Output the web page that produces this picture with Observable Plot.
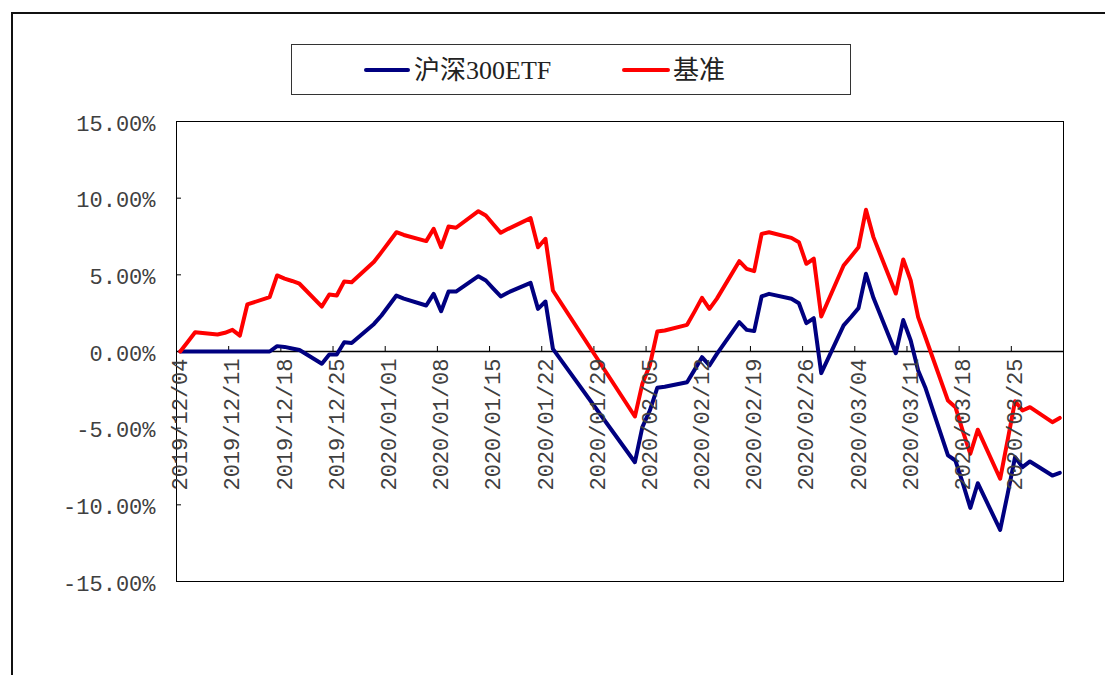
<!DOCTYPE html>
<html><head><meta charset="utf-8">
<script src="https://cdn.jsdelivr.net/npm/d3@7"></script>
<script src="https://cdn.jsdelivr.net/npm/@observablehq/plot@0.6"></script>
<style>
body{margin:0;background:#fff;}
#wrap{position:relative;width:1105px;height:675px;overflow:hidden;background:#fff;}
#border{position:absolute;left:11px;top:12px;width:1200px;height:800px;border-top:2px solid #111;border-left:2px solid #111;}
#chart{position:absolute;left:0;top:0;}
#legend{position:absolute;left:291px;top:44px;width:558px;height:49px;border:1px solid #333;background:#fff;}
#legend .ln{position:absolute;top:23px;height:4px;border-radius:2px;}
#legend .tx{position:absolute;top:8px;font-size:26px;line-height:36px;font-family:"Liberation Serif","Noto Sans CJK SC",serif;color:#222;white-space:nowrap;}
</style></head>
<body>
<div id="wrap">
  <div id="border"></div>
  <div id="chart"></div>
  <div id="legend"></div>
</div>
<script>
// ---- data ----
const seriesNames = ["沪深300ETF", "基准"];
const seriesColors = ["#000080", "#ff0000"];
const dates = [
"2019-12-04","2019-12-05","2019-12-06","2019-12-09","2019-12-10","2019-12-11","2019-12-12","2019-12-13",
"2019-12-16","2019-12-17","2019-12-18","2019-12-19","2019-12-20","2019-12-23","2019-12-24","2019-12-25",
"2019-12-26","2019-12-27","2019-12-30","2019-12-31",
"2020-01-02","2020-01-03","2020-01-06","2020-01-07","2020-01-08","2020-01-09","2020-01-10","2020-01-13",
"2020-01-14","2020-01-15","2020-01-16","2020-01-17","2020-01-20","2020-01-21","2020-01-22","2020-01-23",
"2020-02-03","2020-02-04","2020-02-05","2020-02-06","2020-02-07","2020-02-10","2020-02-11","2020-02-12",
"2020-02-13","2020-02-14","2020-02-17","2020-02-18","2020-02-19","2020-02-20","2020-02-21","2020-02-24",
"2020-02-25","2020-02-26","2020-02-27","2020-02-28",
"2020-03-02","2020-03-03","2020-03-04","2020-03-05","2020-03-06","2020-03-09","2020-03-10","2020-03-11",
"2020-03-12","2020-03-13","2020-03-16","2020-03-17","2020-03-18","2020-03-19","2020-03-20","2020-03-23",
"2020-03-24","2020-03-25","2020-03-26","2020-03-27","2020-03-30","2020-03-31"];
const etf = [
0,0,0,0,0,0,0,0,
0,0.35,0.3,0.2,0.1,-0.8,-0.2,-0.2,
0.6,0.55,1.8,2.35,
3.65,3.45,3.0,3.76,2.63,3.91,3.91,4.91,
4.63,4.1,3.59,3.85,4.48,2.78,3.26,0.17,
-7.22,-4.93,-3.85,-2.37,-2.3,-2.0,-1.2,-0.37,
-0.91,-0.15,1.91,1.41,1.33,3.59,3.76,3.44,
3.15,1.85,2.17,-1.41,
1.7,2.25,2.83,5.07,3.5,-0.11,2.05,0.72,
-1.24,-2.4,-6.78,-7.11,-8.6,-10.2,-8.59,-11.63,
-9.3,-6.89,-7.54,-7.17,-8.09,-7.91];
const bench = [
0,0.62,1.26,1.11,1.22,1.41,1.04,3.07,
3.54,4.96,4.75,4.6,4.42,2.93,3.72,3.65,
4.57,4.52,5.85,6.48,
7.78,7.6,7.2,8.0,6.8,8.15,8.07,9.15,
8.87,8.3,7.74,8.0,8.7,6.8,7.35,3.98,
-4.24,-2.1,-0.9,1.3,1.37,1.74,2.6,3.5,
2.78,3.45,5.89,5.39,5.24,7.67,7.78,7.41,
7.13,5.72,6.05,2.28,
5.61,6.2,6.8,9.24,7.46,3.78,6.0,4.63,
2.24,0.9,-3.2,-3.63,-5.2,-6.67,-5.1,-8.3,
-5.8,-3.24,-3.85,-3.63,-4.61,-4.33];
const xTickLabels = ["2019/12/04","2019/12/11","2019/12/18","2019/12/25","2020/01/01","2020/01/08",
"2020/01/15","2020/01/22","2020/01/29","2020/02/05","2020/02/12","2020/02/19","2020/02/26",
"2020/03/04","2020/03/11","2020/03/18","2020/03/25"];
const yTicks = [-15,-10,-5,0,5,10,15];
const startDate = "2019-12-04";
const endDate = "2020-04-01";

// ---- build ----
const dayMs = 864e5;
const t0 = Date.parse(startDate + "T00:00:00Z");
const dayIdx = s => (Date.parse(s.replaceAll("/", "-") + "T00:00:00Z") - t0) / dayMs;
const nDays = dayIdx(endDate);
const rows = [];
dates.forEach((d, i) => {
  rows.push({s: seriesNames[0], x: dayIdx(d) + 0.5, v: etf[i]});
});
dates.forEach((d, i) => {
  rows.push({s: seriesNames[1], x: dayIdx(d) + 0.5, v: bench[i]});
});
const tickRows = xTickLabels.map(l => ({b: dayIdx(l), c: dayIdx(l) + 0.5, l}));
const fmt = v => v.toFixed(2) + "%";
const mono = "Liberation Mono, DejaVu Sans Mono, monospace";

const chart = Plot.plot({
  width: 1105, height: 675,
  marginLeft: 176, marginRight: 42, marginTop: 121, marginBottom: 94,
  x: {type: "linear", domain: [0, nDays], axis: null},
  y: {domain: [-15, 15], axis: null},
  color: {domain: seriesNames, range: seriesColors},
  style: {background: "transparent"},
  marks: [
    Plot.frame({stroke: "#000", strokeWidth: 1}),
    Plot.ruleY([0], {stroke: "#000", strokeWidth: 1.3}),
    Plot.ruleX(tickRows, {x: "b", y1: 0, y2: 0, insetTop: -5, stroke: "#000"}),
    Plot.ruleY(yTicks, {y: d => d, x1: 0, x2: 0, insetRight: -5, stroke: "#000"}),
    Plot.line(rows, {x: "x", y: "v", z: "s", stroke: "s", strokeWidth: 4}),
    Plot.text(yTicks, {x: 0, y: d => d, text: d => fmt(d), textAnchor: "end", dx: -21, dy: 2,
      fontSize: 22, fontFamily: mono, fill: "#404040"}),
    Plot.text(tickRows, {x: "c", y: 0, text: "l", rotate: -90, textAnchor: "end", dy: 7,
      fontSize: 22, fontFamily: mono, fill: "#404040"})
  ]
});
document.getElementById("chart").appendChild(chart);

// legend
const lg = document.getElementById("legend");
const items = [{lineLeft: 72, lineW: 46, textLeft: 122}, {lineLeft: 330, lineW: 48, textLeft: 381}];
seriesNames.forEach((n, i) => {
  const ln = document.createElement("div");
  ln.className = "ln";
  ln.style.left = items[i].lineLeft + "px";
  ln.style.width = items[i].lineW + "px";
  ln.style.background = seriesColors[i];
  lg.appendChild(ln);
  const tx = document.createElement("div");
  tx.className = "tx";
  tx.style.left = items[i].textLeft + "px";
  tx.textContent = n;
  lg.appendChild(tx);
});
</script>
</body></html>
